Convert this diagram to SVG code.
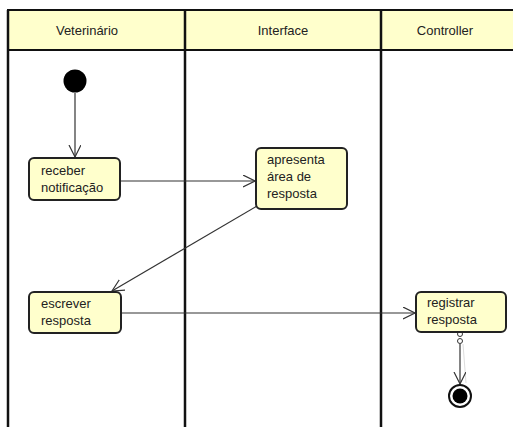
<svg xmlns="http://www.w3.org/2000/svg" width="513" height="427" viewBox="0 0 513 427">
<style>
  text { font-family: "Liberation Sans", Arial, sans-serif; font-size: 13px; fill: #222; }
  .hdr { text-anchor: middle; }
  .lane { stroke: #111; stroke-width: 2.5; fill: none; }
  .act { fill: #ffffcc; stroke: #222; stroke-width: 2; }
  .edge { stroke: #333; stroke-width: 1.2; fill: none; }
</style>
<defs>
  <marker id="arr" markerWidth="14" markerHeight="14" refX="12" refY="6" orient="auto" markerUnits="userSpaceOnUse">
    <path d="M0,0 L12,6 L0,12" fill="none" stroke="#333" stroke-width="1.2"/>
  </marker>
</defs>
<rect width="513" height="427" fill="#fff"/>
<g id="swimlanes">
  <rect x="8" y="10" width="506" height="40" fill="#ffffcc" stroke="#111" stroke-width="2"/>
  <line class="lane" x1="8" y1="10" x2="8" y2="427"/>
  <line class="lane" x1="185" y1="10" x2="185" y2="427"/>
  <line class="lane" x1="381" y1="10" x2="381" y2="427"/>
  <text class="hdr" x="87" y="35">Veterinário</text>
  <text class="hdr" x="283" y="35">Interface</text>
  <text class="hdr" x="445" y="35">Controller</text>
</g>
<g id="connectors">
  <line class="edge" x1="75" y1="93" x2="75" y2="157" marker-end="url(#arr)"/>
  <line class="edge" x1="120" y1="181" x2="255" y2="181" marker-end="url(#arr)"/>
  <line class="edge" x1="257" y1="206" x2="112" y2="291" marker-end="url(#arr)"/>
  <line class="edge" x1="121" y1="313" x2="415" y2="313" marker-end="url(#arr)"/>
  <line x1="463" y1="344" x2="466" y2="383" stroke="#ddd" stroke-width="1"/>
  <line class="edge" x1="460" y1="344" x2="460" y2="384" marker-end="url(#arr)"/>
  <circle cx="460" cy="334" r="2.5" fill="#fff" stroke="#333" stroke-width="1"/>
  <circle cx="460" cy="341" r="2.5" fill="#fff" stroke="#333" stroke-width="1"/>
</g>
<g id="initial">
  <circle cx="75" cy="81" r="11.5" fill="#000"/>
</g>
<g id="receber">
  <rect class="act" x="29" y="158" width="91" height="42" rx="5"/>
  <text x="41" y="175">receber</text>
  <text x="41" y="192">notificação</text>
</g>
<g id="apresenta">
  <rect class="act" x="256" y="148" width="91" height="61" rx="5"/>
  <text x="267" y="164">apresenta</text>
  <text x="267" y="181">área de</text>
  <text x="267" y="198">resposta</text>
</g>
<g id="escrever">
  <rect class="act" x="29" y="292" width="92" height="41" rx="5"/>
  <text x="41" y="308">escrever</text>
  <text x="41" y="325">resposta</text>
</g>
<g id="registrar">
  <rect class="act" x="416" y="292" width="90" height="40" rx="5"/>
  <text x="427" y="307">registrar</text>
  <text x="427" y="324">resposta</text>
</g>
<g id="final">
  <circle cx="460" cy="396" r="11" fill="#fff" stroke="#111" stroke-width="2"/>
  <circle cx="460" cy="396" r="7.5" fill="#000"/>
</g>
</svg>
